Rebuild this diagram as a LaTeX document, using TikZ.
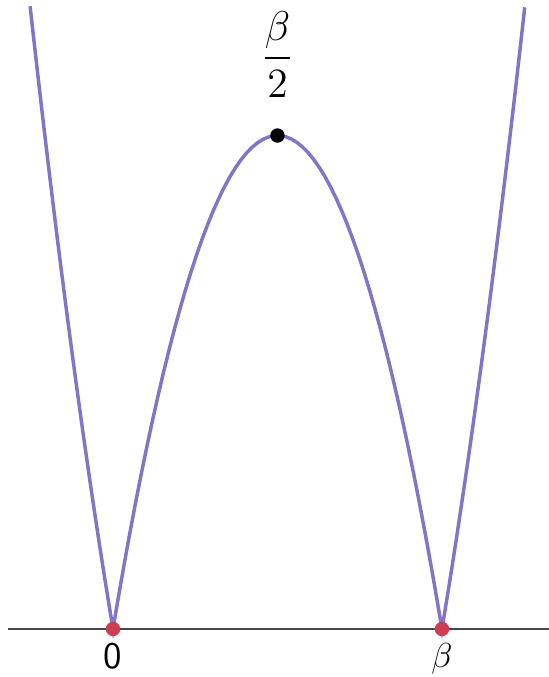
\documentclass[tikz,border=0pt]{standalone}
\usepackage{amsmath}
\usetikzlibrary{positioning}
\definecolor{curvepurple}{RGB}{132,116,200}
\definecolor{rootred}{RGB}{205,62,82}
\definecolor{axisgray}{RGB}{70,70,70}

\begin{document}
\begin{tikzpicture}[
  x=2cm, y=2cm,
  every node/.style={font=\fontsize{13}{15}\selectfont},
  rootdot/.style={circle, fill=rootred, inner sep=0pt, minimum size=5pt},
  topdot/.style={circle, fill=black, inner sep=0pt, minimum size=5pt},
]
\useasboundingbox (-0.687,-0.292) rectangle (2.650,3.824);

% --- Horizontal axis ---
\coordinate (axL) at (-0.64,0);
\coordinate (axR) at (2.65,0);
\draw[axisgray, line width=1pt] (axL) -- (axR);

% --- Curve |x(x-beta)|, beta = 2 ---
\draw[curvepurple, line width=1.2pt, samples=60]
  plot[domain=-0.504:0] (\x, {3*\x*(\x-2)})
  -- plot[domain=0:2] (\x, {-3*\x*(\x-2)})
  -- plot[domain=2:2.504] (\x, {3*\x*(\x-2)});

% Roots and vertex
\node[rootdot] (zero) at (0,0) {};
\node[rootdot] (beta) at (2,0) {};
\node[topdot] (peak) at (1,3) {};

% Labels
\node[below=0pt of zero, inner sep=2pt] (zerolbl) {\textsf{0}};
\node[below=0pt of beta, inner sep=2pt] (betalbl) {$\beta$};
\node[above=7pt of peak, font=\fontsize{14.5}{17}\selectfont] (peaklbl) {$\dfrac{\beta}{2}$};

\end{tikzpicture}
\end{document}
